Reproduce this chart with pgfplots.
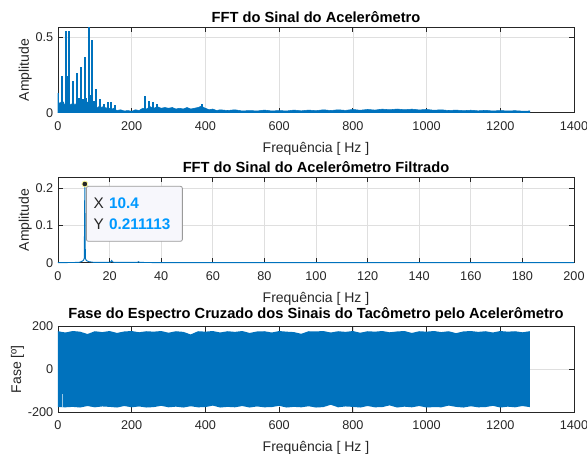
\documentclass[border=0pt]{standalone}
\usepackage{pgfplots}
\pgfplotsset{compat=1.18}
\usepackage{fontspec}
\setmainfont{Liberation Sans}
\definecolor{matblue}{HTML}{0072BD}
\definecolor{axc}{HTML}{262626}
\definecolor{txt}{HTML}{262626}
\definecolor{gridc}{HTML}{DFDFDF}
\definecolor{tipbg}{HTML}{F7F7FC}
\definecolor{tipborder}{HTML}{9A9A9A}
\definecolor{tipblue}{HTML}{0099FF}
\pgfplotsset{
  mat/.style={
    width=387pt, height=64.1pt, scale only axis, anchor=north west,
    axis line style={color=axc, line width=0.6pt},
    tick style={color=axc, line width=0.6pt},
    major tick length=3.75pt, tick align=inside,
    grid=major, grid style={color=gridc, line width=0.5pt},
    ticklabel style={font=\fontsize{9.5}{11}\selectfont, text=txt},
    xticklabel style={yshift=-3pt},
    label style={font=\fontsize{10.5}{12}\selectfont, text=txt},
    title style={font=\bfseries\fontsize{11}{13}\selectfont, text=black, yshift=-6pt},
    xlabel={Frequência [ Hz ]},
    xlabel style={yshift=-2pt},
    ylabel shift=-4pt,
    /pgf/number format/assume math mode=true,
    /pgf/number format/1000 sep={},
    scaled ticks=false,
  }
}
\begin{document}
\begin{tikzpicture}
\useasboundingbox (0,0) rectangle (440.25pt,-340.5pt);
% ---------- Panel 1 ----------
\begin{axis}[mat, at={(43.5pt,-20.5pt)},
  title={FFT do Sinal do Acelerômetro},
  ylabel={Amplitude},
  xmin=0, xmax=1400, xtick={0,200,...,1400},
  ymin=0, ymax=0.564, ytick={0,0.5}, yticklabels={0,0.5}]
\addplot[fill=matblue, draw=matblue, line width=0.4pt] coordinates {
(0,0.13) (2,0.07) (5,0.06) (8,0.07) (12,0.05) (15,0.07) (18,0.05) (22,0.06) (26,0.05) (30,0.07)
(34,0.05) (38,0.06) (42,0.04) (46,0.06) (50,0.05) (55,0.04) (60,0.06) (65,0.04) (70,0.05) (75,0.04)
(80,0.07) (85,0.05) (90,0.06) (95,0.04) (100,0.05) (105,0.03) (110,0.04) (115,0.03) (120,0.04) (125,0.025)
(130,0.035) (135,0.02) (140,0.03) (145,0.02) (150,0.03) (160,0.015) (170,0.02) (180,0.012) (190,0.015) (200,0.01)
(210,0.02) (220,0.015) (230,0.03) (240,0.025) (250,0.04) (260,0.03) (270,0.04) (280,0.03) (290,0.035) (300,0.03)
(310,0.035) (320,0.025) (330,0.03) (340,0.025) (350,0.035) (360,0.025) (370,0.03) (380,0.035) (390,0.045) (395,0.035)
(400,0.03) (410,0.02) (420,0.025) (430,0.015) (440,0.02) (460,0.015) (480,0.02) (500,0.012) (520,0.015) (540,0.012)
(560,0.018) (580,0.012) (600,0.015) (620,0.012) (640,0.018) (660,0.013) (680,0.018) (700,0.014) (720,0.02) (740,0.015)
(760,0.02) (780,0.016) (800,0.022) (820,0.017) (840,0.022) (860,0.018) (880,0.024) (900,0.02) (920,0.025) (940,0.02)
(960,0.024) (980,0.019) (1000,0.022) (1020,0.017) (1040,0.02) (1060,0.015) (1080,0.018) (1100,0.014) (1120,0.017) (1140,0.013)
(1160,0.016) (1180,0.012) (1200,0.015) (1220,0.012) (1240,0.014) (1260,0.011) (1280,0.012)
} \closedcycle;
\addplot[ycomb, color=matblue, line width=1.5pt, mark=none] coordinates {
(0.5,0.13) (10.4,0.24) (20.8,0.54) (23.5,0.24) (31.2,0.54) (41.6,0.21) (52,0.26) (57,0.1) (62.4,0.30) (67,0.09)
(72.8,0.37) (77,0.1) (83.2,0.58) (88,0.12) (93.6,0.48) (98,0.08) (104,0.155) (114.4,0.09) (125,0.06) (135,0.068)
(145,0.068) (156,0.05) (236,0.11) (247,0.08) (258,0.07) (268,0.06) (390,0.055)
};
\end{axis}
% ---------- Panel 2 ----------
\begin{axis}[mat, at={(43.5pt,-133.0pt)},
  title={FFT do Sinal do Acelerômetro Filtrado},
  ylabel={Amplitude},
  xmin=0, xmax=200, xtick={0,20,...,200},
  ymin=0, ymax=0.229, ytick={0,0.1,0.2}, yticklabels={0,0.1,0.2}, clip=false]
\addplot[color=matblue, line width=0.7pt] coordinates {
(0,0.0005) (5,0.0008) (8,0.001) (9,0.003) (9.8,0.006) (10.2,0.012) (10.4,0.211113) (10.6,0.012) (11,0.006) (12,0.003)
(14,0.001) (20,0.001) (20.4,0.002) (20.8,0.006) (21.2,0.002) (22,0.001) (30.8,0.001) (31.2,0.003) (31.6,0.001) (40,0.0005)
(200,0.0003)
};
\addplot[only marks, mark=*, mark size=2.2pt, mark options={fill=axc, draw=yellow!40!white, line width=0.6pt}] coordinates {(10.4,0.211113)};
\node[anchor=north west, fill=tipbg, draw=tipborder, rounded corners=1.5pt, line width=0.6pt,
  align=left, text width=61pt, inner xsep=5.5pt, inner ysep=4pt, minimum height=41.25pt,
  font=\fontsize{11.5}{15.5}\selectfont, text=txt] at (axis cs:10.85,0.206)
  {X \textcolor{tipblue}{\textbf{10.4}}\\Y \textcolor{tipblue}{\textbf{0.211113}}};
\end{axis}
% ---------- Panel 3 ----------
\begin{axis}[mat, at={(43.5pt,-244.9pt)},
  title={Fase do Espectro Cruzado dos Sinais do Tacômetro pelo Acelerômetro},
  ylabel={Fase [º]},
  xmin=0, xmax=1400, xtick={0,200,...,1400},
  ymin=-200, ymax=200, ytick={-200,0,200}, yticklabels={-200,0,200}]
\addplot[fill=matblue, draw=none] coordinates {
(0,178) (20,172) (40,179) (60,176) (80,165) (100,178) (120,174) (140,179) (160,170) (180,177)
(200,179) (220,173) (240,178) (260,176) (280,179) (300,171) (320,178) (340,175) (360,163) (380,178)
(400,176) (420,179) (440,172) (460,178) (480,175) (500,179) (520,170) (540,177) (560,178) (580,172)
(600,179) (620,176) (640,174) (660,166) (680,178) (700,177) (720,179) (740,172) (760,178) (780,175)
(800,179) (820,171) (840,178) (860,176) (880,179) (900,173) (920,177) (940,179) (960,170) (980,178)
(1000,176) (1020,179) (1040,174) (1060,178) (1080,169) (1100,177) (1120,179) (1140,175) (1160,178) (1180,172)
(1200,179) (1220,176) (1240,178) (1260,173) (1280,178)
(1280,-177) (1260,-172) (1240,-178) (1220,-175) (1200,-179) (1180,-171) (1160,-177) (1140,-178) (1120,-173) (1100,-179)
(1080,-176) (1060,-170) (1040,-178) (1020,-177) (1000,-179) (980,-172) (960,-178) (940,-175) (920,-179) (900,-169)
(880,-177) (860,-178) (840,-172) (820,-179) (800,-176) (780,-174) (760,-178) (740,-166) (720,-177) (700,-179)
(680,-173) (660,-178) (640,-176) (620,-179) (600,-171) (580,-177) (560,-178) (540,-174) (520,-179) (500,-172)
(480,-178) (460,-176) (440,-179) (420,-170) (400,-177) (380,-178) (360,-173) (340,-179) (320,-175) (300,-178)
(280,-171) (260,-177) (240,-179) (220,-174) (200,-178) (180,-172) (160,-179) (140,-176) (120,-174) (100,-178)
(80,-172) (60,-179) (40,-176) (20,-178) (0,-177)
} -- cycle;
\addplot[color=matblue!40!white, line width=0.6pt] coordinates {(11.7,-178) (11.7,-118)};
\end{axis}
\end{tikzpicture}
\end{document}
